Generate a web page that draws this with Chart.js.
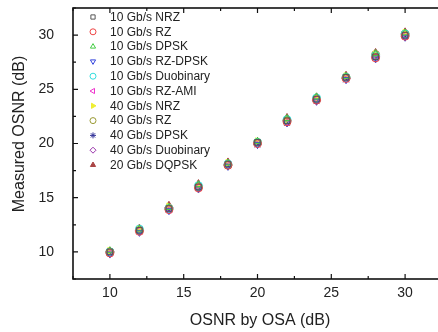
<!DOCTYPE html>
<html>
<head>
<meta charset="utf-8">
<script src="https://cdn.jsdelivr.net/npm/chart.js@4.4.1/dist/chart.umd.min.js"></script>
<style>
  html, body { margin: 0; padding: 0; background: #fff; overflow: hidden; }
  canvas { display: block; }
</style>
</head>
<body>
<canvas id="osnrChart" width="447" height="332"></canvas>
<script>
// OSNR set on the OSA (x) and the OSNR measured for each format (y)
const osnrByOsa = [10, 12, 14, 16, 18, 20, 22, 24, 26, 28, 30];

const seriesNames = [
    '10 Gb/s NRZ', '10 Gb/s RZ', '10 Gb/s DPSK', '10 Gb/s RZ-DPSK',
    '10 Gb/s Duobinary', '10 Gb/s RZ-AMI', '40 Gb/s NRZ', '40 Gb/s RZ',
    '40 Gb/s DPSK', '40 Gb/s Duobinary', '20 Gb/s DQPSK'
];

const nrz10       = [10.0, 12.0, 14.0, 16.0, 18.1, 20.1, 22.1, 24.1, 26.1, 28.0, 30.0];
const rz10        = [9.9, 11.9, 13.9, 15.9, 18.0, 20.0, 22.0, 24.0, 26.0, 27.9, 29.9];
const dpsk10      = [10.1, 12.1, 14.1, 16.2, 18.2, 20.2, 22.3, 24.3, 26.2, 28.3, 30.2];
const rzDpsk10    = [9.8, 11.8, 13.8, 15.8, 17.9, 19.9, 21.9, 23.9, 25.9, 27.8, 29.8];
const duobinary10 = [10.0, 12.1, 14.0, 16.1, 18.1, 20.1, 22.2, 24.2, 26.1, 28.1, 30.1];
const rzAmi10     = [9.9, 12.0, 13.9, 16.0, 18.0, 20.0, 22.0, 24.1, 26.0, 28.0, 30.0];
const nrz40       = [10.1, 12.1, 14.2, 16.1, 18.2, 20.2, 22.2, 24.2, 26.2, 28.2, 30.2];
const rz40        = [10.0, 12.0, 14.0, 16.0, 18.0, 20.1, 22.1, 24.1, 26.1, 28.2, 30.1];
const dpsk40      = [9.9, 11.9, 13.9, 15.9, 17.9, 19.9, 21.9, 23.9, 25.9, 27.9, 29.9];
const duobinary40 = [10.0, 12.0, 14.1, 16.1, 18.1, 20.0, 22.1, 24.0, 26.0, 28.0, 30.0];
const dqpsk20     = [10.1, 12.2, 14.3, 16.3, 18.3, 20.2, 22.4, 24.3, 26.3, 28.4, 30.3];

const seriesValues = [nrz10, rz10, dpsk10, rzDpsk10, duobinary10, rzAmi10,
                      nrz40, rz40, dpsk40, duobinary40, dqpsk20];

const xTicks = [10, 15, 20, 25, 30];
const yTicks = [10, 15, 20, 25, 30];

// marker look per series
const markerStyles = [
    { shape: 'rect',     rot: 0,   color: '#555555', fill: false },
    { shape: 'circle',   rot: 0,   color: '#ee4444', fill: false },
    { shape: 'triangle', rot: 0,   color: '#44cc44', fill: false },
    { shape: 'triangle', rot: 180, color: '#3344dd', fill: false },
    { shape: 'circle',   rot: 0,   color: '#33dddd', fill: false },
    { shape: 'triangle', rot: 270, color: '#ee33cc', fill: false },
    { shape: 'triangle', rot: 90,  color: '#eeee33', fill: true  },
    { shape: 'circle',   rot: 0,   color: '#999933', fill: false },
    { shape: 'star',     rot: 0,   color: '#333399', fill: false },
    { shape: 'rectRot',  rot: 0,   color: '#9933aa', fill: false },
    { shape: 'triangle', rot: 0,   color: '#aa4444', fill: true  }
];

const datasets = seriesNames.map((name, i) => ({
    label: name,
    data: osnrByOsa.map((x, j) => ({ x: x, y: seriesValues[i][j] })),
    pointStyle: markerStyles[i].shape,
    rotation: markerStyles[i].rot,
    borderColor: markerStyles[i].color,
    backgroundColor: markerStyles[i].fill ? markerStyles[i].color : 'rgba(0,0,0,0)',
    pointRadius: 4,
    borderWidth: 1,
    showLine: false
}));

// box, inward ticks, legend and axis titles
const framePlugin = {
    id: 'frame',
    afterDraw(chart) {
        const c = chart.ctx, a = chart.chartArea;
        const xs = chart.scales.x, ys = chart.scales.y;
        c.save();
        c.strokeStyle = '#111';
        c.lineWidth = 1.6;
        c.strokeRect(a.left, a.top, a.right - a.left, a.bottom - a.top);

        c.lineWidth = 1.2;
        c.beginPath();
        for (let v = 7.5; v <= 32.5; v += 2.5) {
            const len = (v % 5 === 0) ? 5 : 3;
            const px = xs.getPixelForValue(v);
            c.moveTo(px, a.bottom); c.lineTo(px, a.bottom - len);
            c.moveTo(px, a.top); c.lineTo(px, a.top + len);
            const py = ys.getPixelForValue(v);
            c.moveTo(a.left, py); c.lineTo(a.left + len, py);
        }
        c.stroke();

        // legend
        c.font = '12px "Liberation Sans", Arial, sans-serif';
        c.textBaseline = 'middle';
        chart.data.datasets.forEach((ds, i) => {
            const y = 17 + i * 14.8;
            c.strokeStyle = ds.borderColor;
            c.fillStyle = ds.backgroundColor;
            c.lineWidth = 1;
            Chart.helpers.drawPoint(c, { pointStyle: ds.pointStyle, rotation: ds.rotation, radius: 3, borderWidth: 1 }, 93, y);
            c.fillStyle = '#222';
            c.fillText(ds.label, 110, y + 0.5);
        });

        // axis titles
        c.font = '16px "Liberation Sans", Arial, sans-serif';
        c.fillStyle = '#222';
        c.textAlign = 'center';
        c.fillText('OSNR by OSA (dB)', 260, 321);
        c.translate(20, 134);
        c.rotate(-Math.PI / 2);
        c.fillText('Measured OSNR (dB)', 0, 0);
        c.restore();
    }
};

const tickFont = { size: 14, family: '"Liberation Sans", Arial, sans-serif' };

const ctx = document.getElementById('osnrChart').getContext('2d');
const osnrChart = new Chart(ctx, {
    type: 'scatter',
    data: { datasets: datasets },
    options: {
        responsive: false,
        animation: false,
        devicePixelRatio: 1,
        layout: { padding: { top: 8, right: 2, bottom: 0, left: 0 } },
        plugins: { legend: { display: false }, tooltip: { enabled: false } },
        scales: {
            x: {
                type: 'linear',
                min: 7.5,
                max: 32.5,
                afterBuildTicks: s => { s.ticks = xTicks.map(v => ({ value: v })); },
                afterFit: s => { s.height = 53; s.paddingLeft = 0; s.paddingRight = 0; },
                grid: { display: false, drawTicks: false },
                border: { display: false },
                ticks: { padding: 6, color: '#222', font: tickFont }
            },
            y: {
                type: 'linear',
                min: 7.5,
                max: 32.5,
                afterBuildTicks: s => { s.ticks = yTicks.map(v => ({ value: v })); },
                afterFit: s => { s.width = 73; s.paddingTop = 0; s.paddingBottom = 0; },
                grid: { display: false, drawTicks: false },
                border: { display: false },
                ticks: { padding: 19, color: '#222', font: tickFont }
            }
        }
    },
    plugins: [framePlugin]
});
</script>
</body>
</html>
